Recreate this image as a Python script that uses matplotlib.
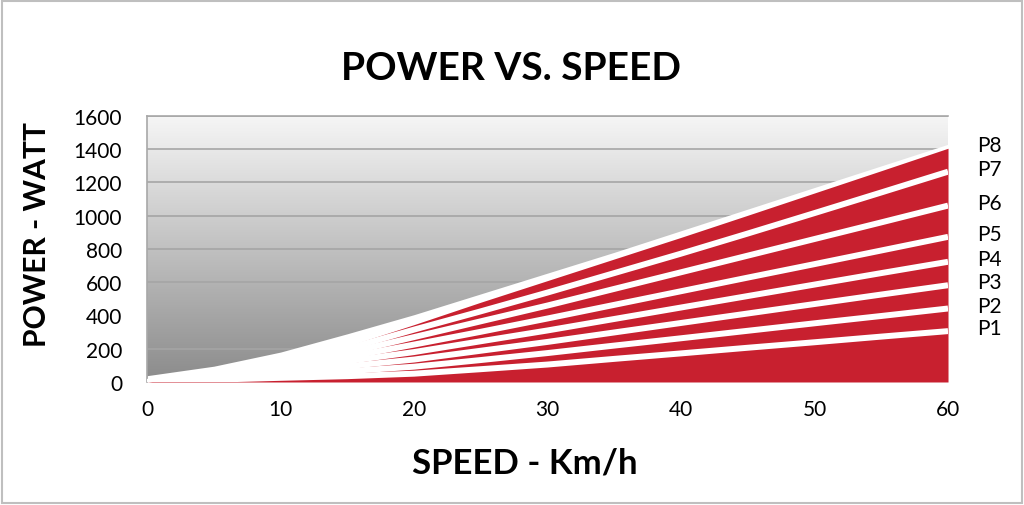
import numpy as np
import matplotlib.pyplot as plt
from matplotlib.colors import LinearSegmentedColormap
from matplotlib.patches import Rectangle

plt.rcParams['font.family'] = ['Lato', 'DejaVu Sans']

# speed in km/h, power in watt
speed = [0, 5, 10, 15, 20, 25, 30, 35, 40, 45, 50, 55, 60]
envelope = [38, 95, 180, 290, 405, 530, 655, 780, 910, 1040, 1170, 1300, 1430]

# white separator lines between the levels, and the top of the last band
p1 = [0, 14, 25, 35, 50, 77, 105, 139, 172, 206, 239, 273, 306]
p2 = [0, 15, 40, 65, 92, 132, 174, 219, 263, 308, 353, 397, 442]
p3 = [0, 20, 55, 95, 135, 188, 241, 298, 355, 412, 469, 526, 582]
p4 = [0, 24, 70, 125, 180, 245, 310, 379, 448, 517, 586, 655, 723]
p5 = [0, 28, 80, 150, 225, 302, 382, 464, 546, 628, 709, 791, 873]
p6 = [0, 32, 90, 175, 270, 365, 460, 560, 660, 760, 860, 960, 1061]
p7 = [0, 36, 105, 200, 315, 425, 538, 655, 772, 893, 1016, 1140, 1265]
p8 = [0, 40, 115, 215, 345, 480, 610, 740, 870, 1003, 1137, 1271, 1406]
levels = ['P1', 'P2', 'P3', 'P4', 'P5', 'P6', 'P7', 'P8']

red = '#c8202f'

fig = plt.figure(figsize=(10.24, 5.06), dpi=100)
ax = fig.add_axes([0.1436, 0.2431, 0.7822, 0.5257])

#gray gradient behind the plot
bg = LinearSegmentedColormap.from_list('bg', ['#8b8b8b', '#f6f6f6'])
ax.imshow(np.linspace(0, 1, 256).reshape(-1, 1), cmap=bg, origin='lower',
          extent=[0, 60, 0, 1600], aspect='auto', zorder=0)

ax.fill_between(speed, 0, envelope, color='white', lw=0, zorder=2)
ax.fill_between(speed, 0, p8, color=red, lw=0, zorder=3)
for sep in [p1, p2, p3, p4, p5, p6, p7]:
    ax.plot(speed, sep, color='white', lw=4.3, solid_capstyle='butt', zorder=4)

# level names at the right end of each band
tops = [p1, p2, p3, p4, p5, p6, p7, p8]
for name, curve in zip(levels, tops):
    ax.text(62.2, curve[-1] + 18, name, fontsize=15, ha='left', va='center',
            clip_on=False)

ax.set_xlim(0, 60)
ax.set_ylim(0, 1600)
ax.set_xticks(range(0, 61, 10))
ax.set_yticks(range(0, 1601, 200))
ax.grid(axis='y', color='#a5a5a5', lw=1.2)
ax.grid(axis='x', visible=False)
ax.tick_params(axis='both', length=0, labelsize=15)
ax.tick_params(axis='y', pad=18)
ax.tick_params(axis='x', pad=12)
for side in ['right', 'bottom']:
    ax.spines[side].set_visible(False)
for side in ['top', 'left']:
    ax.spines[side].set_color('#a8a8a8')
    ax.spines[side].set_linewidth(1.2)

fig.text(0.4995, 1 - 68 / 506, 'POWER VS. SPEED', ha='center', va='center',
         fontsize=28, fontweight='bold')
fig.text(525 / 1024, 1 - 464 / 506, 'SPEED - Km/h', ha='center', va='center',
         fontsize=25, fontweight='bold')
fig.text(37 / 1024, 1 - 235 / 506, 'POWER - WATT', ha='center', va='center',
         fontsize=21.6, fontweight='bold', rotation=90)

fig.patches.append(Rectangle((0.002, 0.003), 0.996, 0.994, transform=fig.transFigure,
                             fill=False, edgecolor='#bfbfbf', lw=1.5))

fig.savefig('out.png', dpi=100)
